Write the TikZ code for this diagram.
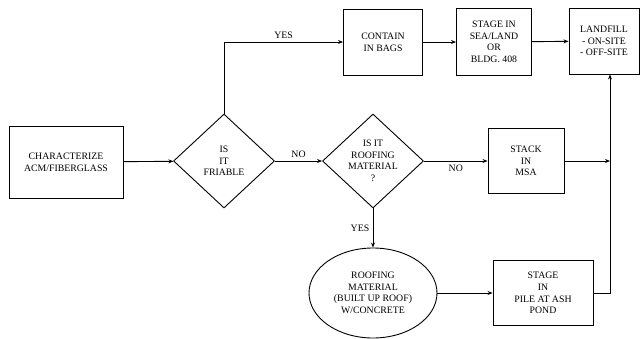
\documentclass[tikz,border=0pt]{standalone}
\usepackage{fontspec}
\setmainfont{Liberation Serif}
\usetikzlibrary{shapes.geometric, positioning, arrows.meta}

\begin{document}
\begin{tikzpicture}[x=1pt, y=-1pt, ->, >={Stealth[length=5pt, width=4pt]}, line width=0.9pt,
            every node/.style={font=\fontsize{9.8}{11.6}\selectfont, align=center},
            proc/.style={rectangle, draw, -},
            query/.style={diamond, draw, -, inner sep=0pt, aspect=1.07,
                minimum width=101pt, minimum height=94pt},
            blob/.style={ellipse, draw, -, inner sep=0pt,
                minimum width=128pt, minimum height=90pt}]

        \useasboundingbox (0,0) rectangle (641,338);

        % --- Boxes ---
        \node[proc, minimum width=114pt, minimum height=72pt] (char) at (66,162)
            {CHARACTERIZE\\ACM/FIBERGLASS};
        \node[query] (friable) at (224,161) {IS\\IT\\FRIABLE};
        \node[query] (roof) at (373,161) {IS IT\\ROOFING\\MATERIAL\\?};
        \node[proc, minimum width=79pt, minimum height=66pt] (bags) at (383,42)
            {CONTAIN\\IN BAGS};
        \node[proc, minimum width=75pt, minimum height=67pt] (sealand) at (494,42)
            {STAGE IN\\SEA/LAND\\OR\\BLDG. 408};
        \node[proc, minimum width=70pt, minimum height=66pt] (landfill) at (604,41)
            {LANDFILL\\- ON-SITE\\- OFF-SITE};
        \node[proc, minimum width=76pt, minimum height=65pt] (stack) at (526,161)
            {STACK\\IN\\MSA};
        \node[blob] (roofmat) at (373,293)
            {ROOFING\\MATERIAL\\(BUILT UP ROOF)\\W/CONCRETE};
        \node[proc, minimum width=100pt, minimum height=65pt] (pile) at (543,293)
            {STAGE\\IN\\PILE AT ASH\\POND};
        \coordinate (drop) at ([xshift=6pt]landfill.south);

        % --- Flow ---
        \draw (char) -- (friable);
        \draw (friable.north) |- node[pos=0.75, above] {YES} (bags.west);
        \draw (bags) -- (sealand);
        \draw (sealand) -- (landfill);
        \draw (friable.east) -- node[above] {NO} (roof.west);
        \draw (roof.east) -- node[below] {NO} (stack.west);
        \draw (roof.south) -- node[left] {YES} (roofmat.north);
        \draw (roofmat) -- (pile);
        \draw (stack.east) -- (stack.east -| drop);
        \draw (pile.east) -| (drop);

    \end{tikzpicture}
\end{document}
